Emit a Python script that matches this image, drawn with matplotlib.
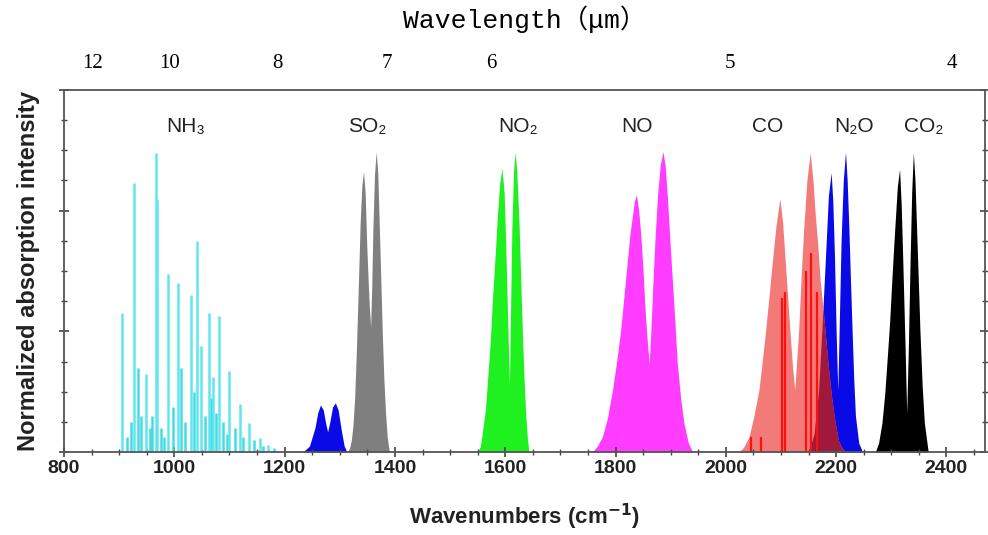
import matplotlib
matplotlib.use("Agg")
import matplotlib.pyplot as plt
from matplotlib.ticker import MultipleLocator
import numpy as np

# ---------------- data ----------------
# NH3 discrete lines: position (cm-1) and normalized height
nh3_x = [906, 927, 948, 966, 968, 989, 1006, 1030, 1042, 1049, 1062, 1071, 1081,
         1100, 1119, 1135, 1155, 1169]
nh3_y = [0.46, 0.89, 0.26, 0.99, 0.84, 0.59, 0.56, 0.52, 0.70, 0.35, 0.46, 0.25, 0.45,
         0.27, 0.16, 0.095, 0.045, 0.025]
nh3_small_x = [915, 922, 935, 940, 955, 960, 975, 982, 998, 1012, 1020, 1036, 1055,
               1066, 1076, 1088, 1095, 1110, 1125, 1145, 1160, 1180]
nh3_small_y = [0.05, 0.10, 0.28, 0.12, 0.08, 0.12, 0.08, 0.05, 0.15, 0.28, 0.10, 0.20,
               0.12, 0.18, 0.13, 0.10, 0.06, 0.08, 0.05, 0.04, 0.02, 0.015]

# N2O weak band (~1280 cm-1)
n2o1_x = [1233, 1245, 1255, 1260, 1265, 1270, 1275, 1278, 1282, 1287, 1292, 1297, 1303, 1308, 1313]
n2o1_y = [0.0, 0.02, 0.08, 0.13, 0.156, 0.14, 0.09, 0.067, 0.10, 0.15, 0.163, 0.14, 0.07, 0.02, 0.0]

# SO2
so2_x = [1314, 1318, 1321, 1324, 1327, 1330, 1333, 1337, 1340, 1343, 1346, 1349, 1353, 1356,
         1358, 1360, 1363, 1366, 1369, 1371, 1374, 1377, 1380, 1383, 1386, 1390]
so2_y = [0.0, 0.015, 0.04, 0.09, 0.18, 0.33, 0.51, 0.76, 0.88, 0.93, 0.86, 0.68, 0.50, 0.415,
         0.55, 0.735, 0.92, 0.995, 0.92, 0.79, 0.60, 0.40, 0.24, 0.13, 0.05, 0.0]

# NO2
no2_x = [1550, 1555, 1559, 1564, 1568, 1573, 1577, 1582, 1586, 1590, 1594, 1598, 1601, 1605,
         1607.6, 1610, 1612, 1615, 1618, 1621, 1625, 1628, 1631, 1634, 1637, 1640, 1643]
no2_y = [0.0, 0.02, 0.07, 0.14, 0.24, 0.37, 0.51, 0.66, 0.79, 0.89, 0.94, 0.86, 0.68, 0.40,
         0.22, 0.50, 0.735, 0.93, 0.995, 0.93, 0.76, 0.58, 0.40, 0.25, 0.13, 0.05, 0.0]

# NO
no_x = [1758, 1767, 1776, 1785, 1794, 1802, 1809, 1815, 1821, 1826, 1830.5, 1834, 1838, 1842,
        1846, 1850, 1853, 1857, 1861, 1864, 1868, 1872, 1876, 1881, 1886, 1890, 1894, 1898,
        1903, 1908, 1912, 1918, 1924, 1932, 1940]
no_y = [0.0, 0.02, 0.05, 0.11, 0.20, 0.30, 0.40, 0.51, 0.625, 0.72, 0.78, 0.83, 0.852, 0.80,
        0.715, 0.60, 0.49, 0.38, 0.294, 0.40, 0.57, 0.72, 0.846, 0.95, 0.995, 0.95, 0.846,
        0.72, 0.57, 0.42, 0.294, 0.18, 0.096, 0.03, 0.0]

# CO
co_x = [2023, 2032, 2042, 2051, 2060, 2066, 2072, 2078, 2084, 2091, 2098, 2103, 2108, 2113,
        2117, 2121, 2125, 2128, 2132, 2136, 2141, 2147, 2153, 2158, 2162, 2167, 2171, 2176,
        2180, 2186, 2192, 2198, 2204, 2210, 2217]
co_y = [0.0, 0.015, 0.05, 0.12, 0.205, 0.30, 0.40, 0.51, 0.625, 0.75, 0.84, 0.76, 0.625,
        0.49, 0.38, 0.28, 0.205, 0.29, 0.40, 0.56, 0.735, 0.90, 0.992, 0.90, 0.79, 0.68,
        0.57, 0.48, 0.40, 0.28, 0.18, 0.10, 0.04, 0.015, 0.0]
co_lines_x = [2045, 2064, 2102, 2107, 2145, 2155, 2165]
co_lines_y = [0.05, 0.05, 0.51, 0.53, 0.60, 0.66, 0.53]

# N2O strong band (~2210 cm-1)
n2o2_x = [2150, 2160, 2168, 2174, 2180, 2186, 2191, 2194, 2197, 2200, 2203, 2206, 2209, 2213,
          2217, 2220, 2223, 2226, 2229, 2232, 2235, 2241, 2248]
n2o2_y = [0.0, 0.06, 0.20, 0.40, 0.62, 0.85, 0.926, 0.83, 0.65, 0.40, 0.205, 0.45, 0.70,
          0.90, 0.995, 0.90, 0.75, 0.57, 0.40, 0.24, 0.12, 0.03, 0.0]

# CO2
co2_x = [2271, 2277, 2283, 2288, 2292, 2297, 2301, 2305, 2308, 2311, 2315, 2318, 2321, 2325,
         2328, 2331, 2334, 2337, 2340, 2343, 2346, 2349, 2352, 2356, 2360, 2367]
co2_y = [0.0, 0.03, 0.096, 0.19, 0.294, 0.43, 0.57, 0.70, 0.79, 0.88, 0.937, 0.82, 0.625,
         0.35, 0.128, 0.35, 0.625, 0.86, 0.992, 0.90, 0.735, 0.57, 0.40, 0.22, 0.096, 0.0]

# species labels
labels = ["NH\u2083", "SO\u2082", "NO\u2082", "NO", "CO", "N\u2082O", "CO\u2082"]
label_x = [1021, 1350, 1624, 1839, 2076, 2232, 2358]

# top axis wavelength labels (µm) and where they sit on the wavenumber scale
wl_labels = ["12", "10", "8", "7", "6", "5", "4"]
wl_pos = [851, 992, 1187, 1385, 1575, 2007, 2409]

# ---------------- figure ----------------
fig = plt.figure(figsize=(9.88, 5.35), dpi=100)
ax = fig.add_axes([0.0648, 0.155, 0.9322, 0.677])

# NH3 lines
ax.vlines(nh3_small_x, 0, nh3_small_y, colors="#30d8e0", lw=1.8, alpha=0.9)
ax.vlines(nh3_x, 0, nh3_y, colors="#5fe6ee", lw=1.8)

# N2O weak band
ax.fill_between(n2o1_x, 0, n2o1_y, color="#0a0ae6", lw=0)
# SO2
ax.fill_between(so2_x, 0, so2_y, color="#7f7f7f", lw=0)
# NO2
ax.fill_between(no2_x, 0, no2_y, color="#1ff01f", lw=0)
# NO
ax.fill_between(no_x, 0, no_y, color="#ff3cff", lw=0)

# N2O strong band
ax.fill_between(n2o2_x, 0, n2o2_y, color="#0a0ae6", lw=0)
# CO (salmon envelope over N2O)
ax.fill_between(co_x, 0, co_y, color="#f27a78", lw=0)
# overlap of CO and N2O shown dark red
grid = np.linspace(min(n2o2_x), max(co_x), 200)
overlap = np.minimum(np.interp(grid, co_x, co_y), np.interp(grid, n2o2_x, n2o2_y))
ax.fill_between(grid, 0, overlap, color="#a0183c", lw=0)
ax.vlines(co_lines_x, 0, co_lines_y, colors="#ff1010", lw=1.6)
# CO2
ax.fill_between(co2_x, 0, co2_y, color="#000000", lw=0)

# species labels
for lab, lx in zip(labels, label_x):
    ax.text(lx, 1.08, lab, ha="center", va="center", fontsize=15,
            family=["Liberation Sans", "DejaVu Sans"], color="#222222")

# axes formatting
ax.set_xlim(800, 2470)
ax.set_ylim(0, 1.2)
ax.xaxis.set_major_locator(MultipleLocator(200))
ax.xaxis.set_minor_locator(MultipleLocator(50))
ax.yaxis.set_major_locator(MultipleLocator(0.4))
ax.yaxis.set_minor_locator(MultipleLocator(0.1))
ax.tick_params(which="both", direction="inout", top=True, right=True, color="#444444")
ax.tick_params(which="major", length=7, width=1.2)
ax.tick_params(which="minor", length=4, width=1.0)
ax.tick_params(axis="y", labelleft=False)
ax.tick_params(axis="x", labelsize=14, pad=2)
for t in ax.get_xticklabels():
    t.set_fontweight("bold")
    t.set_family("Liberation Sans")
    t.set_color("#222222")
for s in ax.spines.values():
    s.set_color("#555555")
    s.set_linewidth(1.3)

ax.set_xlabel("Wavenumbers (cm$^{\\mathbf{-1}}$)", fontsize=16, fontweight="bold",
              family="Liberation Sans", labelpad=18, color="#222222")
ax.set_ylabel("Normalized absorption intensity", fontsize=17, fontweight="bold",
              family="Liberation Sans", labelpad=12, color="#222222")

# top axis with wavelength labels
axt = ax.twiny()
axt.set_xlim(ax.get_xlim())
axt.set_xticks(wl_pos)
axt.set_xticklabels(wl_labels, fontsize=15, family="Liberation Serif")
axt.tick_params(axis="x", length=0, pad=12)
for s in axt.spines.values():
    s.set_visible(False)
axt.set_xlabel("Wavelength\uff08\u03bcm\uff09", fontsize=19,
               family=["Liberation Mono", "Noto Sans CJK SC"], labelpad=19)

fig.savefig("out.png", dpi=100)
